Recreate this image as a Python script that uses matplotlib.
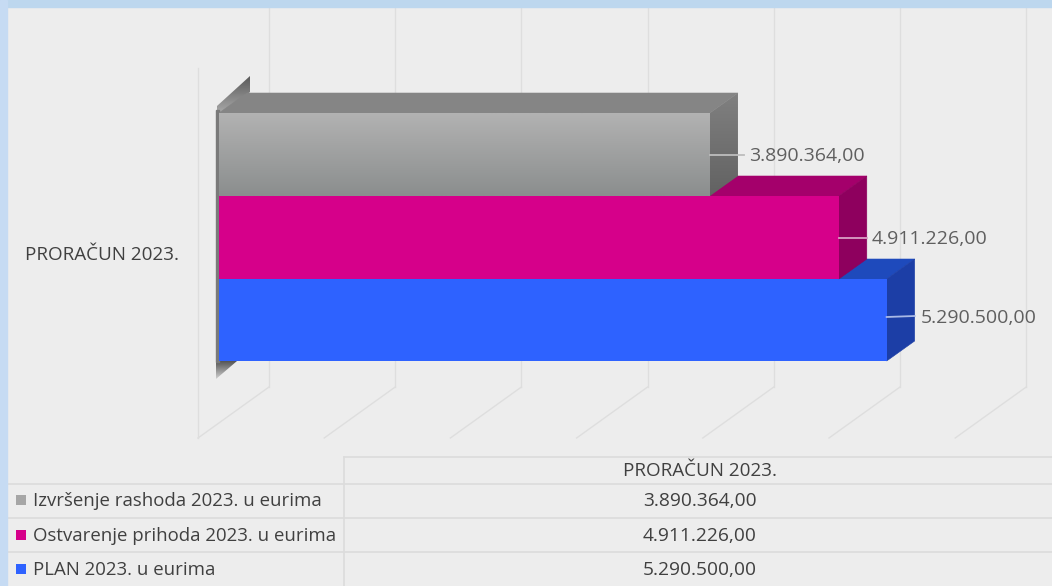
import numpy as np
import matplotlib
matplotlib.use("Agg")
import matplotlib.pyplot as plt
from matplotlib.patches import Polygon, Rectangle
from matplotlib.colors import LinearSegmentedColormap

# chart data
category = "PRORAČUN 2023."
series = ["Izvršenje rashoda 2023. u eurima", "Ostvarenje prihoda 2023. u eurima", "PLAN 2023. u eurima"]
values = [3890364.00, 4911226.00, 5290500.00]
grid_values = [0, 1000000, 2000000, 3000000, 4000000, 5000000, 6000000]

# styles, front / top / side colours per series
front_colors = ["#A0A0A0", "#D6008A", "#2E62FF"]
top_colors = ["#858585", "#A4006B", "#1E4ABC"]
side_colors = ["#707070", "#8E005E", "#1C3EA6"]
key_colors = ["#A6A6A6", "#D6008A", "#2E62FF"]

BG = "#EDEDED"
BAND = "#BDD7EE"
GRID = "#DEDEDE"
TXT = "#404040"
LABEL = "#5F5F5F"
FONT = "Open Sans"

W, H = 1052, 586
PX = 1e6 / 126.2  # euros per pixel
DX = 28 * PX  # bar depth
DY = 20


def fmt(v):
    s = f"{v:,.2f}"
    return s.replace(",", "#").replace(".", ",").replace("#", ".")


def poly(ax, pts, color, z=3):
    ax.add_patch(Polygon(pts, closed=True, facecolor=color, edgecolor=color, linewidth=0.4, zorder=z))


def gradient(ax, x0, x1, y0, y1, c0, c1, z=3, clip=None):
    cm = LinearSegmentedColormap.from_list("g", [c0, c1])
    im = ax.imshow(np.linspace(0, 1, 64).reshape(-1, 1), extent=(x0, x1, y1, y0),
                   cmap=cm, aspect="auto", zorder=z, interpolation="bilinear")
    if clip is not None:
        p = Polygon(clip, closed=True, transform=ax.transData)
        im.set_clip_path(p)
    return im


def main():
    fig = plt.figure(figsize=(W / 100, H / 100), dpi=100, facecolor=BG)
    ax = fig.add_axes([0, 0, 1, 1])
    ax.set_facecolor(BG)
    ax.axis("off")

    # window border
    ax.add_patch(Rectangle((-219 * PX, 0), W * PX, 7, color=BAND, zorder=6))
    ax.add_patch(Rectangle((-219 * PX, 0), 7 * PX, H, color="#C6DBF3", zorder=6))

    # back wall and floor lines
    for g in grid_values:
        x_back = g + 50 * PX
        x_front = g - 21 * PX
        ax.plot([x_back, x_back], [8, 387], color=GRID, lw=1, zorder=1)
        ax.plot([x_back, x_front], [387, 438], color=GRID, lw=1, zorder=1)
    ax.plot([-21 * PX, -21 * PX], [68, 438], color=GRID, lw=1, zorder=1)

    # axis shadow next to the bars
    sh = [(-2 * PX, 112), (-2 * PX, 106), (31 * PX, 76), (31 * PX, 92), (3 * PX, 113)]
    gradient(ax, -2 * PX, 31 * PX, 76, 113, "#5A5A5A", "#A8A8A8", z=2, clip=sh)
    sh2 = [(-3 * PX, 361), (18 * PX, 361), (-3 * PX, 379)]
    gradient(ax, -3 * PX, 18 * PX, 361, 379, "#555555", "#CFCFCF", z=2, clip=sh2)
    ax.add_patch(Rectangle((-3 * PX, 110), 3 * PX, 252, color="#7A7A7A", zorder=2))

    # bars are painted from bottom to top so upper fronts hide lower tops
    tops = [113, 196, 279]
    bots = [196, 279, 361]
    for i in [2, 1, 0]:
        v, t, b = values[i], tops[i], bots[i]
        poly(ax, [(0, t), (v, t), (v + DX, t - DY), (DX, t - DY)], top_colors[i], z=3 + (2 - i))
        side = [(v, t), (v + DX, t - DY), (v + DX, b - DY), (v, b)]
        if i == 0:
            gradient(ax, v, v + DX, t - DY, b, "#808080", "#626262", z=3 + (2 - i), clip=side)
        else:
            poly(ax, side, side_colors[i], z=3 + (2 - i))
        if i == 0:
            gradient(ax, 0, v, t, b, "#B2B2B2", "#8B8E8E", z=3.5 + (2 - i))
        else:
            ax.add_patch(Rectangle((0, t), v, b - t, color=front_colors[i], lw=0, zorder=3.5 + (2 - i)))

    # data labels with leader lines
    label_y = [155, 238, 317]
    label_x = [39 * PX, 33 * PX, 34 * PX]
    line_ends = [34 * PX, 28 * PX, 28 * PX]
    line_col = ["#BDBDBD", "#D9A0C4", "#A9B9E6"]
    for i, v in enumerate(values):
        ax.plot([v, v + line_ends[i]], [label_y[i], label_y[i] - (1 if i == 2 else 0)],
                color=line_col[i], lw=1.3, zorder=7)
        ax.text(v + label_x[i], label_y[i] + 1, fmt(v), color=LABEL, fontsize=14, family=FONT,
                va="center", ha="left", zorder=8)

    ax.text(-194 * PX, 255, category, color=TXT, fontsize=13.6, family=FONT, va="center", ha="left", zorder=8)

    # data table under the chart
    tline = "#DCDCDC"
    left, split, right = -211 * PX, 125 * PX, 833 * PX
    for y, x0 in [(457, split), (484, left), (518, left), (552, left)]:
        ax.plot([x0, right], [y, y], color=tline, lw=1.2, zorder=2)
    ax.plot([split, split], [457, H], color=tline, lw=1.2, zorder=2)

    mid = 481 * PX
    ax.text(mid, 471, category, color=TXT, fontsize=13.6, family=FONT, va="center", ha="center", zorder=8)
    row_y = [500, 535, 569]
    for i, name in enumerate(series):
        ax.add_patch(Rectangle((-203 * PX, row_y[i] - 5), 10 * PX, 10, color=key_colors[i], lw=0, zorder=8))
        ax.text(-186 * PX, row_y[i] + 1, name, color=TXT, fontsize=13.4, family=FONT, va="center", ha="left", zorder=8)
        ax.text(mid, row_y[i] + 1, fmt(values[i]), color=TXT, fontsize=13.8, family=FONT, va="center", ha="center", zorder=8)

    ax.set_xlim(-219 * PX, (W - 219) * PX)
    ax.set_ylim(H, 0)

    fig.savefig("out.png", dpi=100, facecolor=BG)


if __name__ == "__main__":
    main()
